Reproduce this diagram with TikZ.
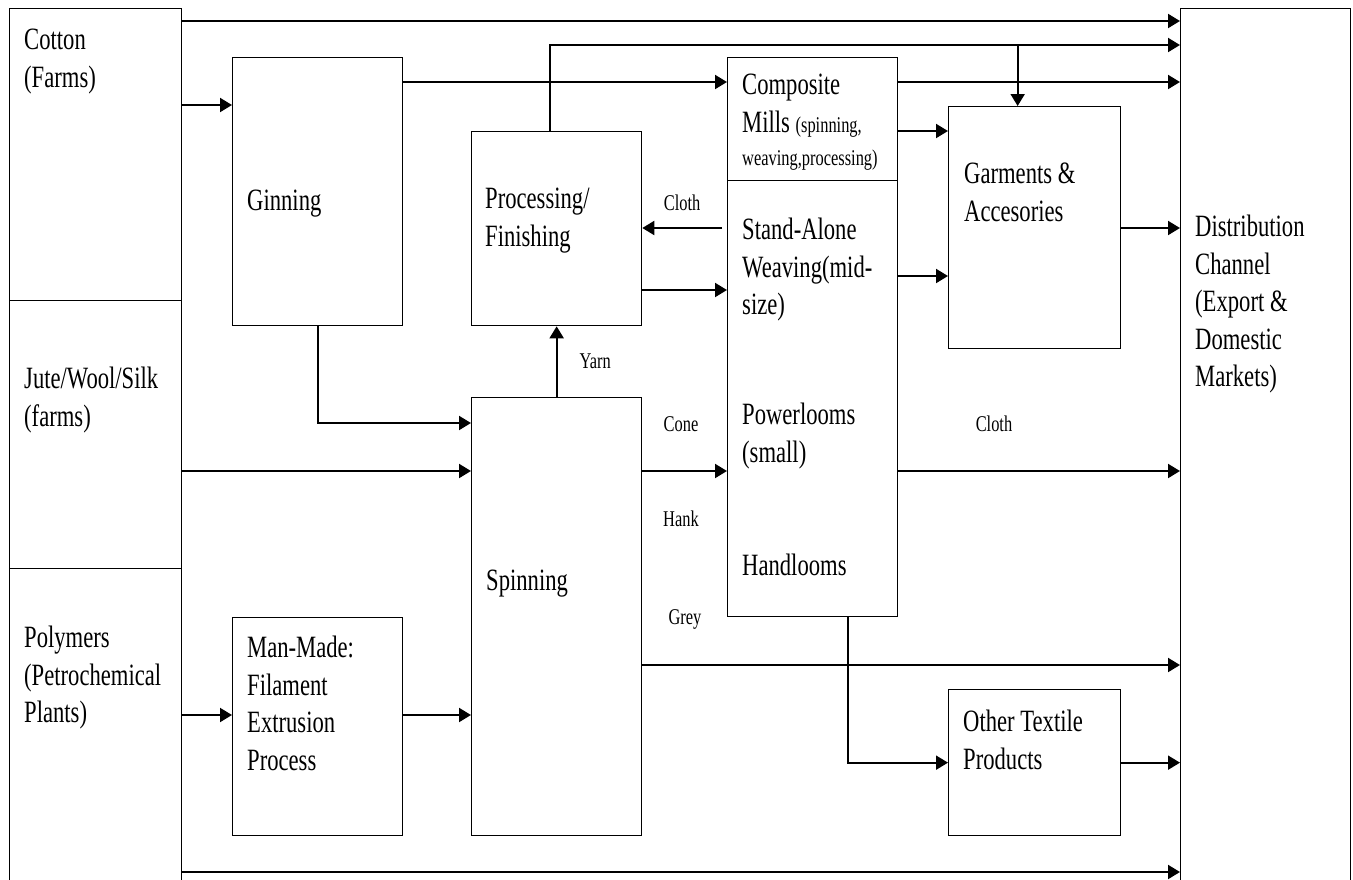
\documentclass[tikz,border=0pt]{standalone}
\usepackage{fontspec}
\setmainfont{Liberation Serif}[FakeStretch=0.73]
\usetikzlibrary{arrows.meta, positioning}

\begin{document}
\begin{tikzpicture}[
  x=1pt, y=-1pt,
  box/.style={draw, line width=1.3pt, inner sep=0pt, anchor=north west},
  txt/.style={inner sep=0pt, align=left, font=\fontsize{31}{37.5}\selectfont},
  lbl/.style={inner sep=0pt, font=\fontsize{22.5}{27}\selectfont},
  arrow/.style={line width=2pt, -{Triangle[length=12pt, width=14pt]}}
]
\useasboundingbox (0,0) rectangle (1353,879);
\clip (0,0) rectangle (1353,879);

\node[box, minimum width=172pt, minimum height=292pt] (cotton) at (9,8) {};
\node[box, minimum width=172pt, minimum height=268pt] (jute) at (9,300) {};
\node[box, minimum width=172pt, minimum height=317pt] (poly) at (9,568) {};
\node[box, minimum width=170pt, minimum height=268pt] (gin) at (232,57) {};
\node[box, minimum width=170pt, minimum height=218pt] (made) at (232,617) {};
\node[box, minimum width=170pt, minimum height=194pt] (proc) at (471,131) {};
\node[box, minimum width=170pt, minimum height=438pt] (spin) at (471,397) {};
\node[box, minimum width=170pt, minimum height=123pt] (comp) at (727,57) {};
\node[box, minimum width=170pt, minimum height=436pt] (weave) at (727,180) {};
\node[box, minimum width=172pt, minimum height=242pt] (garm) at (948,106) {};
\node[box, minimum width=172pt, minimum height=146pt] (other) at (948,689) {};
\node[box, minimum width=170pt, minimum height=877pt] (dist) at (1180,8) {};

\node[txt, below right=21pt and 15pt of cotton.north west] (cotton-t) {Cotton\\(Farms)};
\node[txt, below right=67pt and 15pt of jute.north west] (jute-t) {Jute/Wool/Silk\\(farms)};
\node[txt, below right=58pt and 15pt of poly.north west] (poly-t) {Polymers\\(Petrochemical\\Plants)};
\node[txt, below right=133pt and 15pt of gin.north west] (gin-t) {Ginning};
\node[txt, below right=19pt and 15pt of made.north west] (made-t) {Man-Made:\\Filament\\Extrusion\\Process};
\node[txt, below right=57pt and 14pt of proc.north west] (proc-t) {Processing/\\Finishing};
\node[txt, below right=173pt and 15pt of spin.north west] (spin-t) {Spinning};
\node[txt, below right=17pt and 15pt of comp.north west] (comp-t) {Composite\\Mills {\fontsize{22.5}{27}\selectfont(spinning,}\\[-4pt]{\fontsize{22.5}{27}\selectfont weaving,processing)}};
\node[txt, below right=38pt and 15pt of weave.north west] (stand-t) {Stand-Alone\\Weaving(mid-\\size)};
\node[txt, below right=223pt and 15pt of weave.north west] (power-t) {Powerlooms\\(small)};
\node[txt, below right=374pt and 15pt of weave.north west] (hand-t) {Handlooms};
\node[txt, below right=57pt and 16pt of garm.north west] (garm-t) {Garments \&\\Accesories};
\node[txt, below right=21pt and 15pt of other.north west] (other-t) {Other Textile\\Products};
\node[txt, below right=207pt and 15pt of dist.north west] (dist-t) {Distribution\\Channel\\(Export \&\\Domestic\\Markets)};

\coordinate (ytop) at (0,21);
\coordinate (yfin) at (0,45);
\coordinate (ygin) at (0,82);
\coordinate (ycot) at (0,105);
\coordinate (ygar) at (0,131);
\coordinate (ycloth) at (0,228);
\coordinate (ystand) at (0,276);
\coordinate (yback) at (0,290);
\coordinate (yspin) at (0,423);
\coordinate (yjute) at (0,471);
\coordinate (ygrey) at (0,665);
\coordinate (ypoly) at (0,715);
\coordinate (ybot) at (0,872);

\draw[arrow] (cotton.east |- ytop) -- (dist.west |- ytop);
\draw[arrow] ([xshift=-7pt]proc.north) |- (dist.west |- yfin);
\draw[arrow] ([xshift=-17pt]garm.north |- yfin) -- ([xshift=-17pt]garm.north);
\draw[arrow] (cotton.east |- ycot) -- (gin.west |- ycot);
\draw[arrow] (gin.east |- ygin) -- (comp.west |- ygin);
\draw[arrow] (comp.east |- ygin) -- (dist.west |- ygin);
\draw[arrow] (comp.east |- ygar) -- (garm.west |- ygar);
\draw[arrow] (weave.east |- ystand) -- (garm.west |- ystand);
\draw[arrow] (garm.east |- ycloth) -- (dist.west |- ycloth);
\draw[arrow] ([xshift=-5pt]weave.west |- ycloth) -- (proc.east |- ycloth) node[lbl, midway, above=16pt] (cloth1) {Cloth};
\draw[arrow] (proc.east |- yback) -- (weave.west |- yback);
\draw[arrow] (gin.south) |- (spin.west |- yspin);
\draw[arrow] (jute.east |- yjute) -- (spin.west |- yjute);
\draw[arrow] (spin.north) -- (proc.south) node[lbl, midway, right=22pt] (yarn) {Yarn};
\draw[arrow] (spin.east |- yjute) -- (weave.west |- yjute);
\draw[arrow] (weave.east |- yjute) -- (dist.west |- yjute);
\draw[arrow] (spin.east |- ygrey) -- (dist.west |- ygrey);
\draw[arrow] ([xshift=35pt]weave.south) |- (other.west);
\draw[arrow] (other.east) -- (dist.west |- other.east);
\draw[arrow] (poly.east |- ypoly) -- (made.west |- ypoly);
\draw[arrow] (made.east |- ypoly) -- (spin.west |- ypoly);
\draw[arrow] (poly.east |- ybot) -- (dist.west |- ybot);

\node[lbl] (cone) at (681,424) {Cone};
\node[lbl] (hank) at (681,519) {Hank};
\node[lbl] (grey) at (685,619) {Grey};
\node[lbl] (cloth2) at (994,424) {Cloth};
\end{tikzpicture}
\end{document}
